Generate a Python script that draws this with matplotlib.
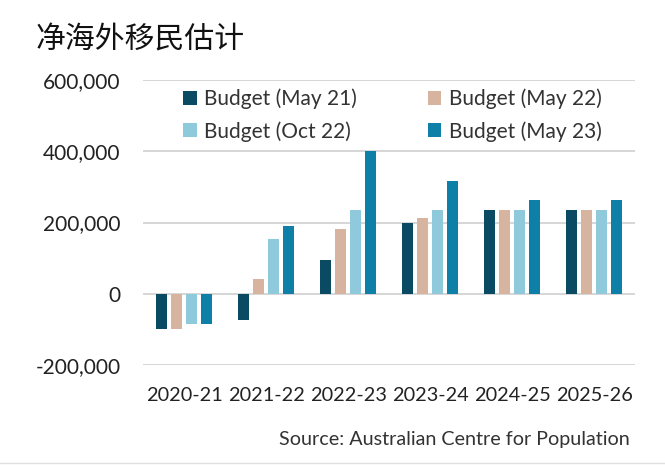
import matplotlib
matplotlib.use("Agg")
import matplotlib.pyplot as plt
import numpy as np
from matplotlib.ticker import FuncFormatter

categories = ["2020-21", "2021-22", "2022-23", "2023-24", "2024-25", "2025-26"]
series_names = ["Budget (May 21)", "Budget (May 22)", "Budget (Oct 22)", "Budget (May 23)"]
may21 = [-98000, -75000, 95000, 200000, 235000, 235000]
may22 = [-98000, 42000, 183000, 212000, 235000, 235000]
oct22 = [-86000, 153000, 235000, 235000, 235000, 235000]
may23 = [-86000, 189000, 400000, 317000, 264000, 264000]
colors = ["#0b4a63", "#d6b4a0", "#8ecadb", "#0e80a8"]
yticks = [-200000, 0, 200000, 400000, 600000]

plt.rcParams['font.family'] = ['Lato', 'DejaVu Sans']

fig = plt.figure(figsize=(6.65, 4.67), dpi=100)
ax = fig.add_axes([143/665, 1-365/467, 492/665, 285/467])

x = np.arange(len(categories))
step = 0.183
width = 0.146
handles = []
for i, (vals, name, c) in enumerate(zip([may21, may22, oct22, may23], series_names, colors)):
    h = ax.bar(x + (i - 1.5) * step, vals, width, color=c, label=name, zorder=3)
    handles.append(h)

ax.set_xlim(-0.5, 5.5)
ax.set_ylim(-200000, 600000)
ax.set_yticks(yticks)
ax.yaxis.set_major_formatter(FuncFormatter(lambda v, p: f"{int(v):,}"))
ax.set_xticks(x)
ax.set_xticklabels(categories)
ax.grid(axis='y', color='#d0d0d0', linewidth=1.2, zorder=0)
for s in ax.spines.values():
    s.set_visible(False)
ax.tick_params(axis='y', length=0, labelsize=15, colors='#222222', pad=16)
ax.tick_params(axis='x', length=0, labelsize=14.3, colors='#222222', pad=16)

order = [0, 2, 1, 3]
leg = ax.legend([handles[i] for i in order], [series_names[i] for i in order],
                ncol=2, loc='upper left', bbox_to_anchor=(0.065, 1.0), frameon=False,
                borderaxespad=0, borderpad=0.4,
                fontsize=15, handlelength=0.65, handleheight=0.65, handletextpad=0.35,
                columnspacing=3.4, labelspacing=0.58, labelcolor='#333333')

fig.text(36/665, 1-40/467, "净海外移民估计", fontsize=21.5, family=['Noto Sans CJK SC', 'DejaVu Sans'],
         va='center', ha='left', color='#111111', weight='medium')
fig.text(630/665, 1-439/467, "Source: Australian Centre for Population", fontsize=14.2,
         ha='right', va='center', color='#333333')
fig.add_artist(plt.Line2D([0, 1], [1-463/467, 1-463/467], color='#e0e0e0', linewidth=1))

fig.savefig("out.png", dpi=100)
